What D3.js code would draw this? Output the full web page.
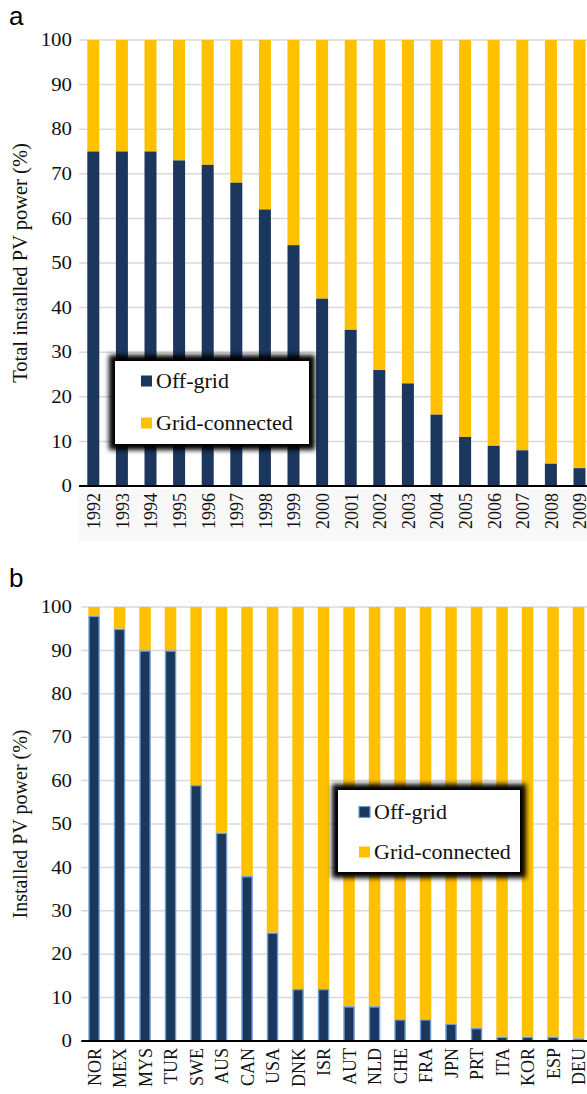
<!DOCTYPE html>
<html><head><meta charset="utf-8">
<script src="https://cdn.jsdelivr.net/npm/d3@7/dist/d3.min.js"></script>
<style>
html,body{margin:0;padding:0;background:#fff;overflow:hidden;}
svg{display:block;}
.serif{font-family:"Liberation Serif","Times New Roman",serif;fill:#111;}
.sans{font-family:"Liberation Sans",Arial,sans-serif;fill:#000;}
</style></head>
<body>
<svg id="chart" width="587" height="1094"></svg>
<script>
// ---- Data ----
const years = ["1992","1993","1994","1995","1996","1997","1998","1999","2000","2001","2002","2003","2004","2005","2006","2007","2008","2009"];
const offGridByYear = [75,75,75,73,72,68,62,54,42,35,26,23,16,11,9,8,5,4];
const countries = ["NOR","MEX","MYS","TUR","SWE","AUS","CAN","USA","DNK","ISR","AUT","NLD","CHE","FRA","JPN","PRT","ITA","KOR","ESP","DEU"];
const offGridByCountry = [98,95,90,90,59,48,38,25,12,12,8,8,5,5,4,3,1,1,1,0.6];
const yTicks = [0,10,20,30,40,50,60,70,80,90,100];
const seriesNames = ["Off-grid","Grid-connected"];

const NAVY = "#1b375d", GOLD = "#ffc000", GRID = "#d9d9d9";
const svg = d3.select("#chart");

const defs = svg.append("defs");
const f = defs.append("filter").attr("id","shadow").attr("x","-20%").attr("y","-30%").attr("width","140%").attr("height","160%");
f.append("feGaussianBlur").attr("stdDeviation",2.6);

function panel(cfg){
  const g = svg.append("g");
  const x = d3.scaleBand().domain(cfg.cats).range(cfg.xr).paddingInner(cfg.pin).paddingOuter(cfg.pin/2);
  const y = d3.scaleLinear().domain([0,100]).range(cfg.yr);

  if (cfg.labelBg) {
    g.append("rect").attr("x",cfg.xr[0]).attr("y",cfg.yr[0]+3).attr("width",600).attr("height",cfg.labelBg).attr("fill","#f8f8f8");
  }
  // gridlines
  g.append("g").selectAll("line").data(yTicks.filter(t=>t>0)).join("line")
    .attr("x1",cfg.xr[0]).attr("x2",600)
    .attr("y1",d=>y(d)).attr("y2",d=>y(d))
    .attr("stroke",GRID).attr("stroke-width",1.5);

  // y axis labels
  const ya = d3.axisLeft(y).tickValues(yTicks).tickSize(0).tickPadding(0).tickFormat(d3.format("d"));
  const yg = g.append("g").attr("transform",`translate(${cfg.tickX},0)`).call(ya);
  yg.select(".domain").remove();
  yg.selectAll("text").attr("class","serif").attr("font-size",18).attr("fill","#111").attr("font-family",null)
    .attr("x",0).attr("transform","scale(1.16,1)");

  // bars
  const data = cfg.cats.map((c,i)=>({c, off:cfg.vals[i]}));
  g.append("g").selectAll("rect").data(data).join("rect")
    .attr("x",d=>x(d.c)).attr("width",x.bandwidth())
    .attr("y",y(100)).attr("height",d=>y(d.off)-y(100))
    .attr("fill",GOLD);
  const ob = g.append("g").selectAll("rect").data(data).join("rect")
    .attr("fill",NAVY);
  if (cfg.outline) {
    ob.attr("x",d=>x(d.c)+0.7).attr("width",x.bandwidth()-1.4)
      .attr("y",d=>y(d.off)+0.7).attr("height",d=>Math.max(0,y(0)-y(d.off)-0.7))
      .attr("stroke","#6c9bd2").attr("stroke-width",1.4);
  } else {
    ob.attr("x",d=>x(d.c)).attr("width",x.bandwidth())
      .attr("y",d=>y(d.off)).attr("height",d=>y(0)-y(d.off));
  }

  // x axis
  g.append("line").attr("x1",cfg.xr[0]).attr("x2",600).attr("y1",y(0)).attr("y2",y(0))
    .attr("stroke","#000").attr("stroke-width",2);
  const xa = d3.axisBottom(x).tickSize(0).tickPadding(0);
  const xg = g.append("g").attr("transform",`translate(0,${y(0)})`).call(xa);
  xg.select(".domain").remove();
  xg.selectAll("text").attr("class","serif").attr("font-size",18).attr("fill","#111").attr("font-family",null)
    .attr("text-anchor","end").attr("dy",null).attr("y",0)
    .attr("dominant-baseline","central")
    .attr("transform","translate(0,7) rotate(-90) scale(1,1.1)");

  // y title
  g.append("text").attr("class","serif").attr("font-size",cfg.titleSize)
    .attr("transform",`translate(${cfg.titleX},${(cfg.yr[0]+cfg.yr[1])/2}) rotate(-90)`)
    .attr("text-anchor","middle").attr("dominant-baseline","central").text(cfg.title);

  // panel letter
  g.append("text").attr("class","sans").attr("font-size",26).attr("x",9).attr("y",cfg.letterY).text(cfg.letter);

  // legend
  const L = cfg.legend;
  const lg = g.append("g");
  lg.append("rect").attr("x",L.x-6).attr("y",L.y-6).attr("width",L.w+12).attr("height",L.h+12)
    .attr("fill","#000").attr("filter","url(#shadow)");
  lg.append("rect").attr("x",L.x).attr("y",L.y).attr("width",L.w).attr("height",L.h).attr("fill","#fff");
  const colors = [NAVY,GOLD];
  seriesNames.forEach((n,i)=>{
    const cy = L.y + L.rows[i];
    lg.append("rect").attr("x",L.sx).attr("y",cy-5.5).attr("width",11).attr("height",11)
      .attr("fill",colors[i])
      .attr("stroke", (cfg.outline && i===0) ? "#6c9bd2" : "none").attr("stroke-width",1.2);
    lg.append("text").attr("class","serif").attr("font-size",20)
      .attr("transform",`translate(${L.sx+15},${cy}) scale(1.1,1)`)
      .attr("dominant-baseline","central").text(n);
  });
}

panel({
  cats: years, vals: offGridByYear,
  xr: [79, 79+18*28.6], yr: [486, 40], pin: 0.58,
  tickX: 72, titleX: 20, title: "Total installed PV power (%)", titleSize: 20.5,
  letter: "a", letterY: 25, labelBg: 52, outline: false,
  legend: {x:115, y:361, w:194, h:83, sx:141, rows:[20,62]}
});

panel({
  cats: countries, vals: offGridByCountry,
  xr: [81.3, 81.3+20*25.5], yr: [1041, 607], pin: 0.55,
  tickX: 72, titleX: 20, title: "Installed PV power (%)", titleSize: 20,
  letter: "b", letterY: 587, labelBg: 0, outline: true,
  legend: {x:338, y:790, w:182, h:82, sx:359, rows:[22,62]}
});
</script>
</body></html>
